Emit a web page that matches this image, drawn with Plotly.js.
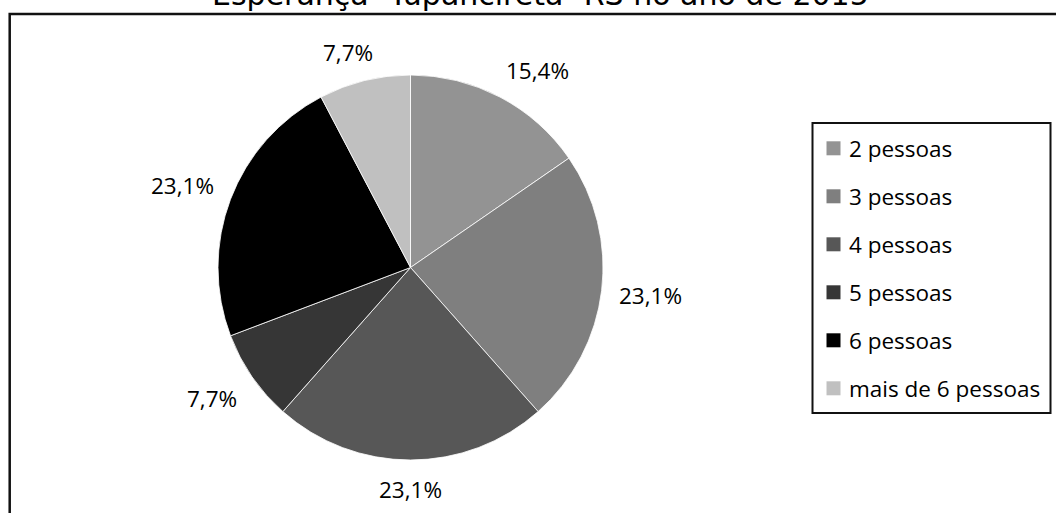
<!DOCTYPE html>
<html>
<head>
<meta charset="utf-8">
<script src="https://cdn.plot.ly/plotly-3.0.1.min.js"></script>
<style>html,body{margin:0;padding:0;background:#fff;}#chart{width:1056px;height:513px;}</style>
</head>
<body>
<div id="chart"></div>
<script>
// Data
const categories = ["2 pessoas", "3 pessoas", "4 pessoas", "5 pessoas", "6 pessoas", "mais de 6 pessoas"];
const families = [2, 3, 3, 1, 3, 1];
const sliceColors = ["#939393", "#7f7f7f", "#575757", "#363636", "#000000", "#c0c0c0"];
const chartTitle = "Esperança- Tupanciretã- RS no ano de 2015";

const W = 1056, H = 513;
const px = x => x / W;
const py = y => 1 - y / H;

// Pie geometry (pixels)
const cx = 410.5, cy = 267.5, r = 192.5;

const trace = {
  type: "pie",
  labels: categories,
  values: families,
  sort: false,
  direction: "clockwise",
  rotation: 0,
  marker: { colors: sliceColors, line: { color: "#ffffff", width: 0.8 } },
  textinfo: "none",
  hoverinfo: "label+percent",
  domain: { x: [px(cx - r), px(cx + r)], y: [py(cy + r), py(cy - r)] },
  showlegend: false
};

const annotations = [];

// Percentage labels placed outside each slice at its mid-angle (computed from the values)
const total = families.reduce((a, b) => a + b, 0);
const soft = t => Math.sign(t) * Math.min(1, Math.abs(t) * 2);
let cum = 0;
families.forEach((v, i) => {
  const mid = (cum + v / 2) / total * 2 * Math.PI;
  cum += v;
  const ux = Math.sin(mid), uy = -Math.cos(mid);
  const txt = (v / total * 100).toFixed(1).replace(".", ",") + "%";
  const hw = txt.length * 6.3, hh = 11, gap = 18;
  const lx = cx + (r + gap) * ux + soft(ux) * hw;
  const ly = cy + (r + gap) * uy + soft(uy) * hh;
  annotations.push({
    xref: "paper", yref: "paper", x: px(lx), y: py(ly),
    xanchor: "center", yanchor: "middle", showarrow: false, text: txt,
    font: { family: "Open Sans", size: 22.5, color: "#000000" }
  });
});

// Title (partly cut by the top edge as in the source image)
annotations.push({
  xref: "paper", yref: "paper", x: px(540), y: py(-5.5),
  xanchor: "center", yanchor: "middle", showarrow: false, text: chartTitle,
  font: { family: "DejaVu Sans", size: 30, color: "#000000" }
});

// Legend (built from categories & colours)
const legTop = 148.3, legStep = 48.0;
categories.forEach((c, i) => {
  annotations.push({
    xref: "paper", yref: "paper",
    x: px(847), y: py(legTop + legStep * i),
    xanchor: "left", yanchor: "middle",
    text: c, showarrow: false,
    font: { family: "Open Sans", size: 22.5, color: "#000000" }
  });
});
const shapes = [
  { type: "rect", xref: "paper", yref: "paper", x0: px(9.7), x1: 1.2, y0: -0.2, y1: py(14),
    line: { color: "#111111", width: 2.5 }, fillcolor: "rgba(0,0,0,0)", layer: "above" },
  { type: "rect", xref: "paper", yref: "paper", x0: px(812.5), x1: px(1050.5), y0: py(413), y1: py(123),
    line: { color: "#111111", width: 2 }, fillcolor: "#ffffff", layer: "below" }
];
categories.forEach((c, i) => {
  const yc = legTop + legStep * i;
  shapes.push({ type: "rect", xref: "paper", yref: "paper",
    x0: px(826.5), x1: px(840.5), y0: py(yc + 7), y1: py(yc - 7),
    line: { width: 0 }, fillcolor: sliceColors[i], layer: "above" });
});

const layout = {
  width: W, height: H,
  margin: { l: 0, r: 0, t: 0, b: 0 },
  paper_bgcolor: "#ffffff",
  plot_bgcolor: "#ffffff",
  separators: ",.",
  showlegend: false,
  annotations: annotations,
  shapes: shapes
};

Plotly.newPlot("chart", [trace], layout, { displayModeBar: false, staticPlot: true });
</script>
</body>
</html>
